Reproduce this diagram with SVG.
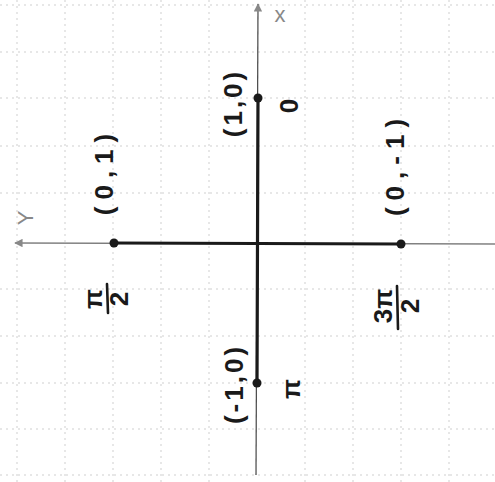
<svg xmlns="http://www.w3.org/2000/svg" width="495" height="482" viewBox="0 0 495 482">
<style>
.grid line{stroke:#cfcfcf;stroke-width:1;stroke-dasharray:2 4}
.axis{stroke:#444;stroke-width:1.2;fill:none}
.seg{stroke:#1a1a1a;stroke-width:3.2;stroke-linecap:round}
.bar{stroke:#1a1a1a;stroke-width:2.6;stroke-linecap:round}
.dot{fill:#1a1a1a}
.lbl{font-family:"Liberation Sans",sans-serif;font-size:26px;font-weight:bold;fill:#1a1a1a;text-anchor:middle}
.axl{font-family:"Liberation Sans",sans-serif;font-size:22px;fill:#888;text-anchor:middle}
</style>
<defs>
<marker id="arr" viewBox="0 0 10 10" refX="9" refY="5" markerWidth="7" markerHeight="7" orient="auto-start-reverse">
<path d="M0,0 L10,5 L0,10 z" fill="#888"/>
</marker>
</defs>
<rect width="495" height="482" fill="#fff"/>
<g class="grid">
<line x1="17" y1="0" x2="17" y2="482"/>
<line x1="65" y1="0" x2="65" y2="482"/>
<line x1="113" y1="0" x2="113" y2="482"/>
<line x1="161" y1="0" x2="161" y2="482"/>
<line x1="209" y1="0" x2="209" y2="482"/>
<line x1="305" y1="0" x2="305" y2="482"/>
<line x1="353" y1="0" x2="353" y2="482"/>
<line x1="401" y1="0" x2="401" y2="482"/>
<line x1="449" y1="0" x2="449" y2="482"/>
<line x1="0" y1="5" x2="495" y2="5"/>
<line x1="0" y1="52" x2="495" y2="52"/>
<line x1="0" y1="98" x2="495" y2="98"/>
<line x1="0" y1="146" x2="495" y2="146"/>
<line x1="0" y1="193" x2="495" y2="193"/>
<line x1="0" y1="289" x2="495" y2="289"/>
<line x1="0" y1="336" x2="495" y2="336"/>
<line x1="0" y1="383" x2="495" y2="383"/>
<line x1="0" y1="429" x2="495" y2="429"/>
<line x1="0" y1="475" x2="495" y2="475"/>
</g>
<g id="connectors">
<line class="axis" x1="256" y1="475" x2="258" y2="4" marker-end="url(#arr)"/>
<line class="axis" x1="495" y1="244" x2="15" y2="243" marker-end="url(#arr)"/>
<line class="seg" x1="258" y1="98" x2="257" y2="383"/>
<line class="seg" x1="114" y1="243" x2="401" y2="244"/>
</g>
<g id="axis-x"><text class="axl" x="280" y="22">x</text></g>
<g id="axis-y"><text class="axl" transform="translate(33,218) rotate(-90)">Y</text></g>
<g id="p0">
<circle class="dot" cx="258" cy="98" r="4.5"/>
<text class="lbl" transform="translate(242,103) rotate(-90)" letter-spacing="3">(1,0)</text>
<text class="lbl" transform="translate(298,106) rotate(-90)">0</text>
</g>
<g id="pHalfPi">
<circle class="dot" cx="114" cy="243" r="4.5"/>
<text class="lbl" transform="translate(113,171) rotate(-90)" letter-spacing="7">(0,1)</text>
<text class="lbl" transform="translate(102,299) rotate(-90)">π</text>
<line class="bar" x1="107" y1="284" x2="108" y2="313"/>
<text class="lbl" transform="translate(128,299) rotate(-90)">2</text>
</g>
<g id="p3HalfPi">
<circle class="dot" cx="401" cy="244" r="4.5"/>
<text class="lbl" transform="translate(404,164) rotate(-90)" letter-spacing="7">(0,-1)</text>
<text class="lbl" transform="translate(392,306) rotate(-90)">3π</text>
<line class="bar" x1="397" y1="286" x2="398" y2="329"/>
<text class="lbl" transform="translate(419,306) rotate(-90)">2</text>
</g>
<g id="pPi">
<circle class="dot" cx="257" cy="383" r="4.5"/>
<text class="lbl" transform="translate(243,384) rotate(-90)" letter-spacing="3">(-1,0)</text>
<text class="lbl" transform="translate(300,389) rotate(-90)">π</text>
</g>
</svg>
